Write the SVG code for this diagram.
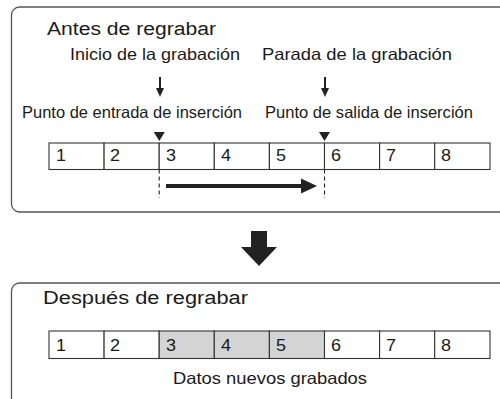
<svg xmlns="http://www.w3.org/2000/svg" width="500" height="399" viewBox="0 0 500 399">
<style>
.box{fill:#fff;stroke:#555;stroke-width:1.3}
.cell{fill:#fff;stroke:#333;stroke-width:1.1}
.new{fill:#d4d4d4;stroke:#333;stroke-width:1.1}
.t{font-family:"Liberation Sans",Arial,sans-serif;fill:#1a1a1a}
.title{font-size:18px}
.lbl{font-size:16.5px}
.num{font-size:16px}
.dash{stroke:#222;stroke-width:1.1;stroke-dasharray:4 3;fill:none}
.ar{fill:#222}
</style>
<rect width="500" height="399" fill="#fff"/>
<g id="before">
<rect class="box" x="11.5" y="7" width="520" height="205" rx="8"/>
<text class="t title" x="47" y="34.5" textLength="169" lengthAdjust="spacingAndGlyphs">Antes de regrabar</text>
<g id="start">
<text class="t lbl" x="70" y="60" textLength="170" lengthAdjust="spacingAndGlyphs">Inicio de la grabación</text>
<line x1="160" y1="77" x2="160" y2="89" stroke="#222" stroke-width="2"/>
<polygon class="ar" points="156,88 164,88 160,97"/>
</g>
<g id="stop">
<text class="t lbl" x="262" y="60" textLength="190" lengthAdjust="spacingAndGlyphs">Parada de la grabación</text>
<line x1="325" y1="77" x2="325" y2="89" stroke="#222" stroke-width="2"/>
<polygon class="ar" points="321,88 329,88 325,97"/>
</g>
<g id="in-point">
<text class="t lbl" x="22" y="118" textLength="220" lengthAdjust="spacingAndGlyphs">Punto de entrada de inserción</text>
<polygon class="ar" points="153.8,132 164.8,132 159.3,141"/>
</g>
<g id="out-point">
<text class="t lbl" x="265" y="118" textLength="208" lengthAdjust="spacingAndGlyphs">Punto de salida de inserción</text>
<polygon class="ar" points="319,132 330,132 324.5,141"/>
</g>
<g id="timeline-before">
<rect class="cell" x="49" y="143" width="55.1" height="26.5"/>
<rect class="cell" x="104.1" y="143" width="55.1" height="26.5"/>
<rect class="cell" x="159.2" y="143" width="55.1" height="26.5"/>
<rect class="cell" x="214.3" y="143" width="55.1" height="26.5"/>
<rect class="cell" x="269.4" y="143" width="55.1" height="26.5"/>
<rect class="cell" x="324.5" y="143" width="55.1" height="26.5"/>
<rect class="cell" x="379.6" y="143" width="55.1" height="26.5"/>
<rect class="cell" x="434.7" y="143" width="55.3" height="26.5"/>
<text class="t num" x="56" y="160.5" textLength="10" lengthAdjust="spacingAndGlyphs">1</text>
<text class="t num" x="110" y="160.5" textLength="10" lengthAdjust="spacingAndGlyphs">2</text>
<text class="t num" x="166" y="160.5" textLength="10" lengthAdjust="spacingAndGlyphs">3</text>
<text class="t num" x="221" y="160.5" textLength="10" lengthAdjust="spacingAndGlyphs">4</text>
<text class="t num" x="276" y="160.5" textLength="10" lengthAdjust="spacingAndGlyphs">5</text>
<text class="t num" x="331" y="160.5" textLength="10" lengthAdjust="spacingAndGlyphs">6</text>
<text class="t num" x="386" y="160.5" textLength="10" lengthAdjust="spacingAndGlyphs">7</text>
<text class="t num" x="441" y="160.5" textLength="10" lengthAdjust="spacingAndGlyphs">8</text>
</g>
</g>
<g id="connectors">
<line class="dash" x1="159.2" y1="169.5" x2="159.2" y2="198"/>
<line class="dash" x1="324.5" y1="169.5" x2="324.5" y2="198"/>
<line x1="166" y1="186" x2="303" y2="186" stroke="#222" stroke-width="4"/>
<polygon class="ar" points="301,178.5 317,186 301,193.5"/>
<polygon class="ar" points="251,231 267,231 267,247 277,247 259,266 241,247 251,247"/>
</g>
<g id="after">
<rect class="box" x="11.5" y="283" width="520" height="140" rx="8"/>
<text class="t title" x="43" y="303.5" textLength="205" lengthAdjust="spacingAndGlyphs">Después de regrabar</text>
<g id="timeline-after">
<rect class="cell" x="49" y="331" width="55.1" height="27.5"/>
<rect class="cell" x="104.1" y="331" width="55.1" height="27.5"/>
<rect class="new" x="159.2" y="331" width="55.1" height="27.5"/>
<rect class="new" x="214.3" y="331" width="55.1" height="27.5"/>
<rect class="new" x="269.4" y="331" width="55.1" height="27.5"/>
<rect class="cell" x="324.5" y="331" width="55.1" height="27.5"/>
<rect class="cell" x="379.6" y="331" width="55.1" height="27.5"/>
<rect class="cell" x="434.7" y="331" width="55.3" height="27.5"/>
<text class="t num" x="56" y="350.5" textLength="10" lengthAdjust="spacingAndGlyphs">1</text>
<text class="t num" x="110" y="350.5" textLength="10" lengthAdjust="spacingAndGlyphs">2</text>
<text class="t num" x="166" y="350.5" textLength="10" lengthAdjust="spacingAndGlyphs">3</text>
<text class="t num" x="221" y="350.5" textLength="10" lengthAdjust="spacingAndGlyphs">4</text>
<text class="t num" x="276" y="350.5" textLength="10" lengthAdjust="spacingAndGlyphs">5</text>
<text class="t num" x="331" y="350.5" textLength="10" lengthAdjust="spacingAndGlyphs">6</text>
<text class="t num" x="386" y="350.5" textLength="10" lengthAdjust="spacingAndGlyphs">7</text>
<text class="t num" x="441" y="350.5" textLength="10" lengthAdjust="spacingAndGlyphs">8</text>
</g>
<text class="t lbl" x="173" y="384" textLength="194" lengthAdjust="spacingAndGlyphs">Datos nuevos grabados</text>
</g>
</svg>
